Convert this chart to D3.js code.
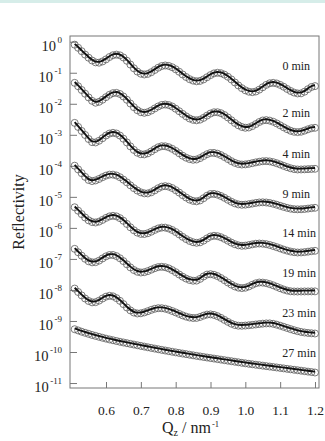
<!DOCTYPE html>
<html>
<head>
<meta charset="utf-8">
<script src="https://cdn.jsdelivr.net/npm/d3@7"></script>
<style>
body { margin: 0; background: #fff; }
svg { display: block; font-family: "Liberation Serif", "Times New Roman", serif; }
</style>
</head>
<body>
<svg id="chart" width="325" height="441"></svg>
<script>
// Qz values (nm^-1) shared by every curve
const qz = [0.51,0.52,0.53,0.54,0.55,0.56,0.57,0.58,0.59,0.60,
  0.61,0.62,0.63,0.64,0.65,0.66,0.67,0.68,0.69,0.70,
  0.71,0.72,0.73,0.74,0.75,0.76,0.77,0.78,0.79,0.80,
  0.81,0.82,0.83,0.84,0.85,0.86,0.87,0.88,0.89,0.90,
  0.91,0.92,0.93,0.94,0.95,0.96,0.97,0.98,0.99,1.00,
  1.01,1.02,1.03,1.04,1.05,1.06,1.07,1.08,1.09,1.10,
  1.11,1.12,1.13,1.14,1.15,1.16,1.17,1.18,1.19,1.20];

// log10(reflectivity), curves already offset by the authors
const r0 = [-0.07,-0.17,-0.28,-0.39,-0.49,-0.58,-0.64,-0.65,-0.61,-0.544,
  -0.467,-0.411,-0.39,-0.414,-0.483,-0.588,-0.71,-0.832,-0.937,-1.006,
  -1.03,-1.011,-0.957,-0.885,-0.812,-0.759,-0.74,-0.755,-0.797,-0.863,
  -0.942,-1.03,-1.112,-1.182,-1.229,-1.25,-1.237,-1.19,-1.12,-1.05,
  -0.995,-0.975,-0.99,-1.035,-1.104,-1.191,-1.288,-1.384,-1.471,-1.541,
  -1.585,-1.6,-1.579,-1.519,-1.442,-1.366,-1.314,-1.3,-1.32,-1.366,
  -1.426,-1.497,-1.562,-1.614,-1.641,-1.638,-1.585,-1.504,-1.433,-1.405];
const r2 = [-1.30,-1.41,-1.53,-1.65,-1.77,-1.88,-1.94,-1.911,-1.844,-1.761,
  -1.685,-1.632,-1.623,-1.66,-1.74,-1.845,-1.967,-2.085,-2.182,-2.247,
  -2.266,-2.245,-2.193,-2.125,-2.06,-2.012,-1.998,-2.016,-2.062,-2.134,
  -2.214,-2.3,-2.38,-2.449,-2.492,-2.507,-2.486,-2.429,-2.356,-2.289,
  -2.248,-2.247,-2.278,-2.338,-2.416,-2.505,-2.593,-2.668,-2.722,-2.748,
  -2.739,-2.694,-2.629,-2.562,-2.513,-2.501,-2.517,-2.553,-2.607,-2.669,
  -2.733,-2.794,-2.845,-2.877,-2.888,-2.875,-2.84,-2.797,-2.762,-2.749];
const r4 = [-2.59,-2.72,-2.85,-2.98,-3.11,-3.21,-3.22,-3.166,-3.084,-2.998,
  -2.934,-2.91,-2.933,-2.999,-3.101,-3.221,-3.348,-3.462,-3.552,-3.601,
  -3.606,-3.572,-3.51,-3.438,-3.375,-3.342,-3.344,-3.373,-3.426,-3.494,
  -3.571,-3.648,-3.712,-3.757,-3.779,-3.77,-3.725,-3.661,-3.6,-3.56,
  -3.558,-3.583,-3.629,-3.69,-3.757,-3.824,-3.879,-3.917,-3.932,-3.927,
  -3.911,-3.888,-3.863,-3.842,-3.826,-3.822,-3.832,-3.856,-3.89,-3.931,
  -3.975,-4.017,-4.053,-4.079,-4.092,-4.091,-4.087,-4.081,-4.075,-4.07];
const r9 = [-3.97,-4.09,-4.21,-4.33,-4.43,-4.466,-4.445,-4.398,-4.34,-4.289,
  -4.258,-4.258,-4.286,-4.342,-4.421,-4.508,-4.603,-4.694,-4.771,-4.829,
  -4.861,-4.863,-4.827,-4.765,-4.696,-4.644,-4.628,-4.646,-4.69,-4.759,
  -4.836,-4.919,-4.996,-5.063,-5.104,-5.118,-5.09,-5.018,-4.937,-4.883,
  -4.879,-4.903,-4.947,-5.004,-5.069,-5.132,-5.184,-5.218,-5.23,-5.225,
  -5.21,-5.19,-5.17,-5.155,-5.15,-5.156,-5.172,-5.197,-5.228,-5.263,
  -5.298,-5.329,-5.355,-5.371,-5.376,-5.374,-5.366,-5.352,-5.338,-5.327];
const r14 = [-5.31,-5.42,-5.53,-5.64,-5.73,-5.785,-5.8,-5.772,-5.717,-5.653,
  -5.604,-5.585,-5.604,-5.661,-5.746,-5.848,-5.955,-6.051,-6.127,-6.168,
  -6.172,-6.146,-6.097,-6.04,-5.991,-5.965,-5.966,-5.994,-6.042,-6.108,
  -6.184,-6.263,-6.334,-6.395,-6.437,-6.455,-6.44,-6.385,-6.313,-6.252,
  -6.229,-6.241,-6.275,-6.327,-6.388,-6.449,-6.501,-6.537,-6.552,-6.546,
  -6.528,-6.505,-6.485,-6.478,-6.484,-6.499,-6.525,-6.558,-6.595,-6.635,
  -6.674,-6.708,-6.737,-6.757,-6.767,-6.765,-6.755,-6.74,-6.725,-6.713];
const r19 = [-6.65,-6.76,-6.87,-6.97,-7.05,-7.085,-7.079,-7.03,-6.959,-6.892,
  -6.848,-6.847,-6.884,-6.954,-7.045,-7.148,-7.248,-7.332,-7.389,-7.412,
  -7.401,-7.367,-7.32,-7.273,-7.238,-7.228,-7.242,-7.279,-7.335,-7.402,
  -7.476,-7.547,-7.608,-7.654,-7.677,-7.673,-7.618,-7.54,-7.478,-7.465,
  -7.485,-7.528,-7.59,-7.659,-7.735,-7.802,-7.861,-7.9,-7.915,-7.902,
  -7.862,-7.808,-7.76,-7.735,-7.738,-7.755,-7.787,-7.826,-7.872,-7.919,
  -7.96,-7.995,-8.017,-8.024,-8.025,-8.024,-8.022,-8.021,-8.02,-8.02];
const r23 = [-7.93,-8.04,-8.15,-8.25,-8.33,-8.374,-8.368,-8.319,-8.25,-8.19,
  -8.163,-8.18,-8.238,-8.325,-8.431,-8.541,-8.634,-8.703,-8.732,-8.726,
  -8.699,-8.659,-8.616,-8.581,-8.562,-8.563,-8.579,-8.61,-8.653,-8.698,
  -8.747,-8.794,-8.834,-8.863,-8.878,-8.876,-8.845,-8.802,-8.768,-8.761,
  -8.78,-8.819,-8.874,-8.939,-9.003,-9.062,-9.104,-9.127,-9.129,-9.122,
  -9.112,-9.1,-9.087,-9.073,-9.061,-9.053,-9.052,-9.066,-9.093,-9.127,
  -9.163,-9.2,-9.237,-9.272,-9.302,-9.327,-9.346,-9.36,-9.37,-9.378];
const r27 = [-9.24,-9.28,-9.32,-9.355,-9.39,-9.425,-9.455,-9.485,-9.515,-9.543,
  -9.57,-9.595,-9.62,-9.644,-9.667,-9.69,-9.712,-9.734,-9.756,-9.778,
  -9.8,-9.822,-9.843,-9.864,-9.885,-9.906,-9.926,-9.946,-9.966,-9.986,
  -10.005,-10.024,-10.043,-10.062,-10.081,-10.099,-10.117,-10.135,-10.152,-10.169,
  -10.186,-10.203,-10.22,-10.237,-10.254,-10.271,-10.288,-10.305,-10.322,-10.339,
  -10.354,-10.369,-10.384,-10.399,-10.414,-10.429,-10.443,-10.458,-10.473,-10.488,
  -10.502,-10.517,-10.532,-10.547,-10.561,-10.576,-10.591,-10.606,-10.62,-10.635];

const curves = [r0, r2, r4, r9, r14, r19, r23, r27];
const curveNames = ['0 min', '2 min', '4 min', '9 min', '14 min', '19 min', '23 min', '27 min'];
// where each name sits: right end Qz and log10 level of its baseline
const nameQ = [1.186, 1.186, 1.186, 1.186, 1.203, 1.203, 1.203, 1.203];
const nameLog = [-0.912, -2.427, -3.748, -5.036, -6.294, -7.583, -8.872, -10.161];

const xTicks = [0.6, 0.7, 0.8, 0.9, 1.0, 1.1, 1.2];
const yExps = [0, -1, -2, -3, -4, -5, -6, -7, -8, -9, -10, -11];

const plotL = 70, plotR = 319, plotT = 36, plotB = 388;
const svg = d3.select('#chart');

svg.append('rect').attr('x', 0).attr('y', 0).attr('width', 325).attr('height', 3)
    .attr('fill', '#d6ede9');

const x = d3.scaleLinear().domain([0.4966, 1.2115]).range([plotL, plotR]);
const y = d3.scaleLog().domain([Math.pow(10, -11.16), Math.pow(10, 0.184)]).range([plotB, plotT]);

// x axis, ticks pointing in
const xa = svg.append('g')
    .attr('transform', `translate(0,${plotB})`)
    .call(d3.axisBottom(x).tickValues(xTicks).tickSizeInner(-6).tickSizeOuter(0)
        .tickFormat(d3.format('.1f')));
xa.select('.domain').remove();
xa.selectAll('line').attr('stroke', '#777');
xa.selectAll('text').attr('y', 27).attr('dy', null)
    .attr('font-size', 13.5).attr('fill', '#222')
    .attr('font-family', '"Liberation Serif", serif');

// y axis, log decades
const ya = svg.append('g')
    .attr('transform', `translate(${plotL},0)`)
    .call(d3.axisLeft(y).tickValues(yExps.map(e => Math.pow(10, e)))
        .tickSizeInner(-7).tickSizeOuter(0).tickFormat(''));
ya.select('.domain').remove();
ya.selectAll('line').attr('stroke', '#777');

const yl = svg.append('g').attr('fill', '#222');
yExps.forEach(function(e) {
    let t = yl.append('text')
        .attr('x', 62)
        .attr('y', y(Math.pow(10, e)) + 9)
        .attr('text-anchor', 'end')
        .attr('font-size', 14.5);
    t.append('tspan').text('10');
    t.append('tspan').attr('dx', 1.5).attr('dy', -8).attr('font-size', 9).text(String(e));
});

// frame
svg.append('rect')
    .attr('x', plotL).attr('y', plotT)
    .attr('width', plotR - plotL).attr('height', plotB - plotT)
    .attr('fill', 'none').attr('stroke', '#777').attr('stroke-width', 1);

const line = d3.line()
    .x(d => x(d[0]))
    .y(d => y(Math.pow(10, d[1])))
    .curve(d3.curveMonotoneX);

curves.forEach(function(vals, i) {
    let pts = qz.map((q, j) => [q, vals[j]]);
    let g = svg.append('g');
    g.selectAll('circle')
        .data(pts)
        .enter()
        .append('circle')
        .attr('cx', d => x(d[0]))
        .attr('cy', d => y(Math.pow(10, d[1])) + 0.8)
        .attr('r', 3.5)
        .attr('fill', 'none')
        .attr('stroke', '#5c5c5c')
        .attr('stroke-width', 0.8);
    g.append('path')
        .datum(pts)
        .attr('d', line)
        .attr('fill', 'none')
        .attr('stroke', '#111')
        .attr('stroke-width', 1.9);
    svg.append('text')
        .attr('x', x(nameQ[i]))
        .attr('y', y(Math.pow(10, nameLog[i])))
        .attr('text-anchor', 'end')
        .attr('font-size', 12)
        .attr('fill', '#222')
        .text(curveNames[i]);
});

// axis titles
svg.append('text')
    .attr('transform', 'translate(24,212) rotate(-90)')
    .attr('text-anchor', 'middle')
    .attr('font-size', 16)
    .attr('fill', '#222')
    .text('Reflectivity');

const xt = svg.append('text')
    .attr('x', 162).attr('y', 433)
    .attr('font-size', 16)
    .attr('fill', '#222');
xt.append('tspan').text('Q');
xt.append('tspan').attr('font-size', 10).attr('dy', 3).text('z');
xt.append('tspan').attr('dy', -3).text(' / nm');
xt.append('tspan').attr('font-size', 8.5).attr('dy', -6.5).attr('dx', 1).text('-1');
</script>
</body>
</html>
